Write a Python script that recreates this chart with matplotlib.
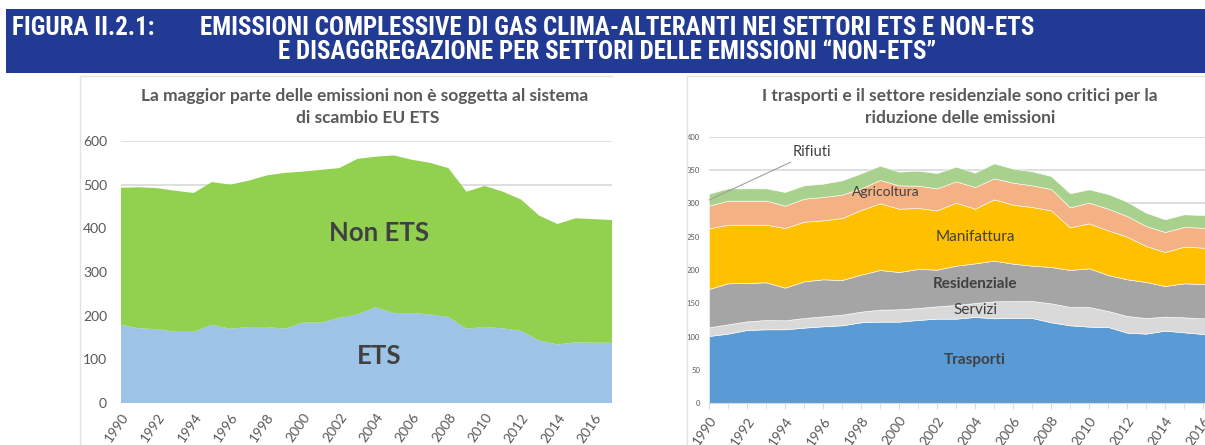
import numpy as np
import matplotlib.pyplot as plt
from matplotlib.patches import Rectangle
from matplotlib.lines import Line2D

plt.rcParams['font.family'] = ['Lato', 'DejaVu Sans']

# Left chart: ETS vs Non ETS (Mt CO2eq)
years = list(range(1990, 2018))
ets = [179, 171, 169, 163, 163, 179, 170, 174, 174, 170, 184, 184, 195, 203,
       219, 206, 206, 203, 197, 170, 174, 171, 165, 143, 134, 139, 138, 138]
non_ets = [314, 323, 323, 323, 318, 327, 330, 335, 347, 357, 346, 350, 343, 356,
           345, 361, 351, 347, 341, 314, 323, 313, 301, 286, 276, 284, 283, 281]

# Right chart: non-ETS by sector
trasporti = [101, 104.5, 110, 111, 111, 113.5, 115.5, 117, 121.5, 122.5, 122.5, 125, 127, 127,
             129.5, 127.5, 128, 128, 121.5, 117, 115, 114.5, 106, 104.5, 109, 106.5, 104, 103]
servizi = [13, 14, 13, 14, 13.5, 14.5, 15, 16, 16, 18, 18.5, 18, 18.5, 20.5,
           21, 25.5, 25.5, 25.5, 28.5, 27.5, 29.5, 24, 25, 23.5, 21, 22.5, 23.5, 24]
residenziale = [57.5, 61.5, 57.5, 56.5, 49, 55, 55.5, 52, 55.5, 59.5, 56, 58.5, 55, 59,
                59.5, 61, 56, 53, 54.5, 55.5, 58, 54, 55, 54, 46, 51, 51.5, 51]
manifattura = [91, 88, 87.5, 86.5, 89.5, 89.5, 88.5, 93, 97, 100, 95, 91.5, 89, 94.5,
               82, 92, 88.5, 88, 85, 64, 67.5, 67, 64, 54, 51, 55, 54.5, 54]
agricoltura = [34, 36, 36, 36, 33.5, 34.5, 35, 35, 32.5, 35, 35, 33.5, 33, 32,
               32.5, 31.5, 33, 32.5, 32, 30, 31, 32.5, 31, 30, 30, 29.5, 30, 30]
rifiuti = [18, 18.5, 18.5, 18.5, 20.5, 20, 20, 21.5, 22.5, 21.5, 20.5, 22.5, 23, 22,
           21.5, 22.5, 21, 21, 19.5, 21, 20, 22, 21.5, 20, 19, 19, 19, 19]

tick_years = list(range(1990, 2017, 2))

GRID = '#D9D9D9'
TXT = '#595959'
DARK = '#404040'

fig = plt.figure(figsize=(12.05, 4.45), dpi=100)
W, H = 1205, 445

def fx(px):
    return px / W

def fy(py):
    return 1 - py / H

# header band
fig.add_artist(Rectangle((fx(6), fy(73)), fx(1205 - 6), (73 - 9) / H,
                         facecolor='#213B94', edgecolor='none'))
hdr = dict(color='white', fontweight='black', fontsize=18, fontstretch='condensed',
           family=['Roboto Condensed', 'Roboto', 'DejaVu Sans'], va='center')
fig.text(fx(12), fy(28), 'FIGURA II.2.1:', ha='left', **hdr)
fig.text(fx(200), fy(28), 'EMISSIONI COMPLESSIVE DI GAS CLIMA-ALTERANTI NEI SETTORI ETS E NON-ETS',
         ha='left', **hdr)
fig.text(fx(607), fy(52), 'E DISAGGREGAZIONE PER SETTORI DELLE EMISSIONI \u201cNON-ETS\u201d',
         ha='center', **hdr)

# chart boxes
for x0, x1 in [(80, 612), (687, 1205)]:
    fig.add_artist(Line2D([fx(x0), fx(x1)], [fy(76), fy(76)], color='#E3E3E3', lw=1))
    fig.add_artist(Line2D([fx(x0), fx(x0)], [fy(76), 0], color='#E3E3E3', lw=1))

# ---- left chart
ax1 = fig.add_axes([fx(121), fy(403), fx(612 - 121), (403 - 141) / H])
ax1.stackplot(years, ets, non_ets, colors=['#9DC3E6', '#92D050'], zorder=2)
ax1.set_xlim(1990, 2017)
ax1.set_ylim(0, 600)
ax1.set_yticks(range(0, 601, 100))
ax1.set_xticks(tick_years)
ax1.set_xticklabels(tick_years, rotation=55, ha='right', rotation_mode='anchor')
ax1.tick_params(axis='both', length=0, colors=TXT, labelsize=10)
ax1.tick_params(axis='y', pad=10)
ax1.tick_params(axis='x', pad=6)
ax1.grid(axis='y', color=GRID, lw=1.2, zorder=0)
ax1.set_axisbelow(True)
for s in ax1.spines.values():
    s.set_visible(False)
ax1.text(2004.2, 390, 'Non ETS', ha='center', va='center', fontsize=18.5,
         fontweight='bold', color=DARK)
ax1.text(2004.2, 107, 'ETS', ha='center', va='center', fontsize=18.5,
         fontweight='bold', color=DARK)
fig.text(fx(365), fy(95.5), 'La maggior parte delle emissioni non è soggetta al sistema',
         ha='center', va='center', fontsize=12.5, fontweight='bold', color=TXT)
fig.text(fx(368), fy(118), 'di scambio EU ETS',
         ha='center', va='center', fontsize=12.5, fontweight='bold', color=TXT)

# ---- right chart
ax2 = fig.add_axes([fx(709), fy(403.3), fx(1222 - 709), (403.3 - 136.7) / H])
ax2.stackplot(years, trasporti, servizi, residenziale, manifattura, agricoltura, rifiuti,
              colors=['#5B9BD5', '#D9D9D9', '#A5A5A5', '#FFC000', '#F4B183', '#A9D18E'],
              edgecolor='white', linewidth=0.4, zorder=2)
ax2.set_xlim(1990, 2017)
ax2.set_ylim(0, 400)
ax2.set_yticks(range(0, 401, 50))
ax2.set_xticks(years, minor=True)
ax2.set_xticks(tick_years)
ax2.set_xticklabels(tick_years, rotation=55, ha='right', rotation_mode='anchor')
ax2.tick_params(axis='y', length=0, colors=TXT, labelsize=5.5, pad=6.5)
ax2.tick_params(axis='x', which='both', length=4, color=GRID, labelcolor=TXT,
                labelsize=10, pad=4)
ax2.grid(axis='y', color=GRID, lw=1.2, zorder=0)
ax2.set_axisbelow(True)
for k, s in ax2.spines.items():
    s.set_visible(k == 'bottom')
ax2.spines['bottom'].set_color(GRID)
ax2.text(2004.0, 65, 'Trasporti', ha='center', va='center', fontsize=11,
         fontweight='bold', color=DARK)
ax2.text(2004.0, 140, 'Servizi', ha='center', va='center', fontsize=11, color=DARK)
ax2.text(2004.0, 179, 'Residenziale', ha='center', va='center', fontsize=11,
         fontweight='bold', color=DARK)
ax2.text(2004.0, 249, 'Manifattura', ha='center', va='center', fontsize=11, color=DARK)
ax2.text(1999.3, 316.5, 'Agricoltura', ha='center', va='center', fontsize=10, color=DARK)
ax2.annotate('Rifiuti', xy=(1990, 305), xytext=(1994.4, 376.5), ha='left', va='center',
             fontsize=10.5, color=DARK,
             arrowprops=dict(arrowstyle='-', color='#A0A0A0', lw=0.8,
                             shrinkA=0, shrinkB=0))
fig.text(fx(960), fy(95.5), 'I trasporti e il settore residenziale sono critici per la',
         ha='center', va='center', fontsize=12.5, fontweight='bold', color=TXT)
fig.text(fx(960), fy(118), 'riduzione delle emissioni',
         ha='center', va='center', fontsize=12.5, fontweight='bold', color=TXT)

fig.savefig('out.png', dpi=100)
